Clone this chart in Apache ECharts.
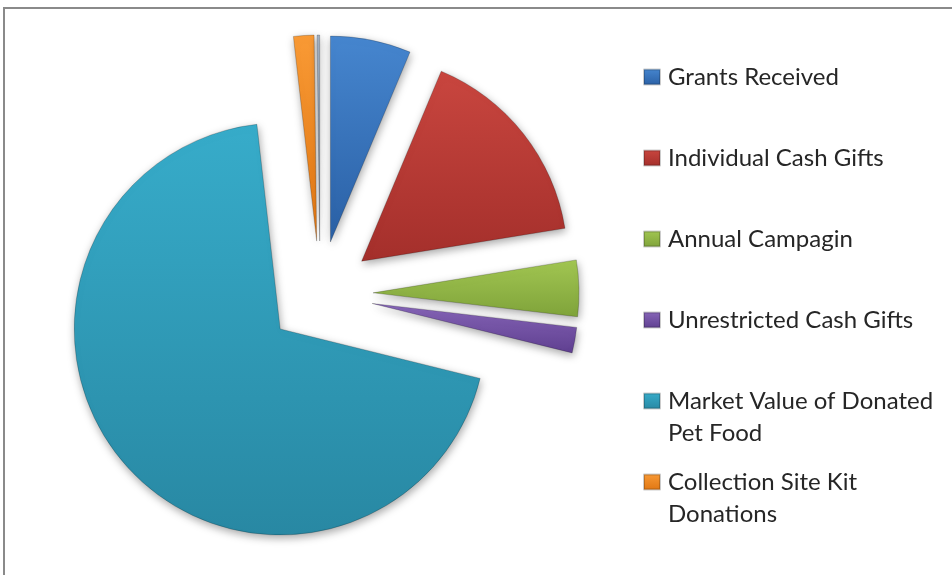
<!DOCTYPE html>
<html><head><meta charset="utf-8">
<script src="https://cdn.jsdelivr.net/npm/echarts@6/dist/echarts.min.js"></script>
<style>html,body{margin:0;padding:0;background:#fff}#c{width:952px;height:575px}</style>
</head><body><div id="c"></div>
<script>
// ---- data ----
const categories = ['Grants Received', 'Individual Cash Gifts', 'Annual Campagin', 'Unrestricted Cash Gifts', 'Market Value of Donated Pet Food', 'Collection Site Kit Donations', ''];
const values = [6.3, 16.1, 4.4, 2.0, 69.2, 1.6, 0.2];
const legendNames = categories.slice(0, 6);

// ---- styles ----
const palette = [
  ['#4686cf', '#2a60a5'],
  ['#c9463f', '#a42f2b'],
  ['#a2c652', '#7fa33a'],
  ['#8766b8', '#5f3f90'],
  ['#37acca', '#2888a3'],
  ['#f99a35', '#e07612'],
  ['#a3b1c2', '#6f7f93']
];
const wrapMap = {
  'Market Value of Donated Pet Food': '\nMarket Value of Donated\nPet Food',
  'Collection Site Kit Donations': '\nCollection Site Kit\nDonations'
};
const legendY = [77, 158, 239, 320, 401, 482];

function grad(c) {
  return new echarts.graphic.LinearGradient(0, 0, 0, 1, [
    { offset: 0, color: c[0] }, { offset: 1, color: c[1] }
  ]);
}

const chart = echarts.init(document.getElementById('c'), null, { renderer: 'canvas' });

const legends = legendNames.map((name, i) => {
  const two = !!wrapMap[name];
  return {
    orient: 'vertical',
    left: 643,
    top: two ? legendY[i] - 48 : legendY[i] - 16,
    padding: 0,
    itemWidth: 16,
    itemHeight: 15,
    icon: 'rect',
    selectedMode: false,
    data: [name],
    formatter: n => wrapMap[n] || n,
    textStyle: {
      fontFamily: 'Lato',
      fontSize: 24,
      color: '#262626',
      lineHeight: 32,
      padding: [0, 0, 0, 3]
    }
  };
});

const option = {
  backgroundColor: '#ffffff',
  animation: false,
  graphic: [{
    type: 'rect',
    shape: { x: 4, y: 8, width: 1100, height: 700 },
    style: { fill: 'none', stroke: '#8a8a8a', lineWidth: 2 },
    silent: true
  }],
  legend: legends,
  series: [{
    type: 'pie',
    center: [320, 294],
    radius: 206,
    startAngle: 90,
    clockwise: true,
    selectedMode: 'multiple',
    selectedOffset: 53,
    label: { show: false },
    labelLine: { show: false },
    emphasis: { disabled: true },
    itemStyle: {
      borderColor: 'rgba(0,0,0,0.2)',
      borderWidth: 1,
      shadowBlur: 8,
      shadowColor: 'rgba(0,0,0,0.35)',
      shadowOffsetX: 1,
      shadowOffsetY: 3
    },
    select: {
      itemStyle: {
        borderColor: 'rgba(0,0,0,0.2)',
        borderWidth: 1,
        shadowBlur: 8,
        shadowColor: 'rgba(0,0,0,0.35)',
        shadowOffsetX: 1,
        shadowOffsetY: 3
      }
    },
    data: categories.map((name, i) => ({
      name: name,
      value: values[i],
      selected: true,
      itemStyle: { color: grad(palette[i]) }
    }))
  }]
};
chart.setOption(option);
</script>
</body></html>
